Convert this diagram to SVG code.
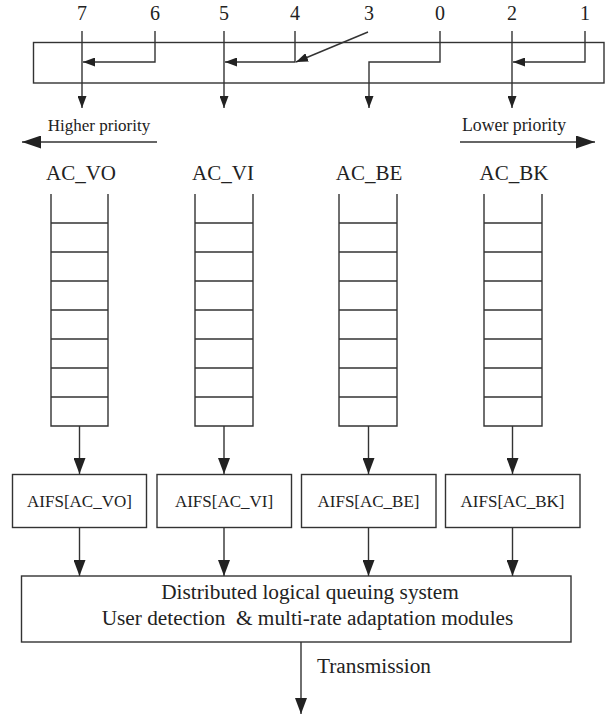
<svg xmlns="http://www.w3.org/2000/svg" width="610" height="715" viewBox="0 0 610 715">
<style>
text{font-family:"Liberation Serif","Times New Roman",serif;fill:#222;}
.num{font-size:20px;text-anchor:middle;}
.pri{font-size:17px;text-anchor:middle;}
.ac{font-size:21px;text-anchor:middle;}
.aifs{font-size:17px;text-anchor:middle;}
.big{font-size:21.3px;text-anchor:middle;white-space:pre;}
.ln{fill:none;stroke:#333;stroke-width:1.4;}
.box{fill:#fff;stroke:#333;stroke-width:1.4;}
.q{fill:none;stroke:#333;stroke-width:1.4;}
</style>
<defs>
<marker id="sm" markerUnits="userSpaceOnUse" markerWidth="12" markerHeight="9" refX="12" refY="4.5" orient="auto"><path d="M0,0 L12,4.5 L0,9 z" fill="#222"/></marker>
<marker id="md" markerUnits="userSpaceOnUse" markerWidth="16" markerHeight="12" refX="16" refY="6" orient="auto"><path d="M0,0 L16,6 L0,12 z" fill="#222"/></marker>
<marker id="lg" markerUnits="userSpaceOnUse" markerWidth="19" markerHeight="13" refX="19" refY="6.5" orient="auto"><path d="M0,0 L19,6.5 L0,13 z" fill="#222"/></marker>
</defs>

<g id="mapper">
<rect class="box" x="33.5" y="42.5" width="570.5" height="40.5"/>
<text class="num" x="82" y="20">7</text>
<text class="num" x="155" y="20">6</text>
<text class="num" x="224" y="20">5</text>
<text class="num" x="295" y="20">4</text>
<text class="num" x="369" y="20">3</text>
<text class="num" x="440" y="20">0</text>
<text class="num" x="512" y="20">2</text>
<text class="num" x="585" y="20">1</text>
</g>

<g id="priority">
<text class="pri" x="99" y="131">Higher priority</text>
<text class="pri" x="514" y="131" style="font-size:17.8px">Lower priority</text>
</g>

<g id="ac_vo">
<text class="ac" x="81" y="180">AC_VO</text>
<path class="q" d="M51,194 V426 H108 V194 M51,223 H108 M51,252 H108 M51,281 H108 M51,310 H108 M51,339 H108 M51,368 H108 M51,397 H108"/>
</g>
<g id="ac_vi">
<text class="ac" x="223" y="180">AC_VI</text>
<path class="q" d="M195,194 V426 H253 V194 M195,223 H253 M195,252 H253 M195,281 H253 M195,310 H253 M195,339 H253 M195,368 H253 M195,397 H253"/>
</g>
<g id="ac_be">
<text class="ac" x="369" y="180">AC_BE</text>
<path class="q" d="M339,194 V426 H397 V194 M339,223 H397 M339,252 H397 M339,281 H397 M339,310 H397 M339,339 H397 M339,368 H397 M339,397 H397"/>
</g>
<g id="ac_bk">
<text class="ac" x="514" y="180">AC_BK</text>
<path class="q" d="M484,194 V426 H542 V194 M484,223 H542 M484,252 H542 M484,281 H542 M484,310 H542 M484,339 H542 M484,368 H542 M484,397 H542"/>
</g>

<g id="aifs_vo"><rect class="box" x="12.5" y="474.5" width="134" height="53"/><text class="aifs" x="79.5" y="507">AIFS[AC_VO]</text></g>
<g id="aifs_vi"><rect class="box" x="157" y="474.5" width="134.5" height="53"/><text class="aifs" x="224" y="507">AIFS[AC_VI]</text></g>
<g id="aifs_be"><rect class="box" x="301.5" y="474.5" width="134.5" height="53"/><text class="aifs" x="368.5" y="507">AIFS[AC_BE]</text></g>
<g id="aifs_bk"><rect class="box" x="445.5" y="474.5" width="134.5" height="53"/><text class="aifs" x="512.5" y="507">AIFS[AC_BK]</text></g>

<g id="system">
<rect class="box" x="21.5" y="576" width="549.5" height="66"/>
<text class="big" x="310" y="599">Distributed logical queuing system</text>
<text class="big" x="307.5" y="625">User detection  &amp; multi-rate adaptation modules</text>
<text class="big" x="374" y="673">Transmission</text>
</g>

<g id="connectors">
<path class="ln" d="M82,31 V108" marker-end="url(#sm)"/>
<path class="ln" d="M155,31 V62 H83" marker-end="url(#sm)"/>
<path class="ln" d="M224,31 V108" marker-end="url(#sm)"/>
<path class="ln" d="M295,31 V62 H225" marker-end="url(#sm)"/>
<path class="ln" d="M368,32 L296,62" marker-end="url(#sm)"/>
<path class="ln" d="M440,31 V62 H369 V108" marker-end="url(#sm)"/>
<path class="ln" d="M512,31 V108" marker-end="url(#sm)"/>
<path class="ln" d="M585,31 V62 H513" marker-end="url(#sm)"/>
<path class="ln" d="M157,142 H22" marker-end="url(#lg)"/>
<path class="ln" d="M460,142 H595" marker-end="url(#lg)"/>
<path class="ln" d="M79.5,426 V474" marker-end="url(#md)"/>
<path class="ln" d="M224,426 V474" marker-end="url(#md)"/>
<path class="ln" d="M368.5,426 V474" marker-end="url(#md)"/>
<path class="ln" d="M512.5,426 V474" marker-end="url(#md)"/>
<path class="ln" d="M79.5,527.5 V576" marker-end="url(#md)"/>
<path class="ln" d="M224,527.5 V576" marker-end="url(#md)"/>
<path class="ln" d="M368.5,527.5 V576" marker-end="url(#md)"/>
<path class="ln" d="M512.5,527.5 V576" marker-end="url(#md)"/>
<path class="ln" d="M301,642 V714" marker-end="url(#md)"/>
</g>
</svg>
